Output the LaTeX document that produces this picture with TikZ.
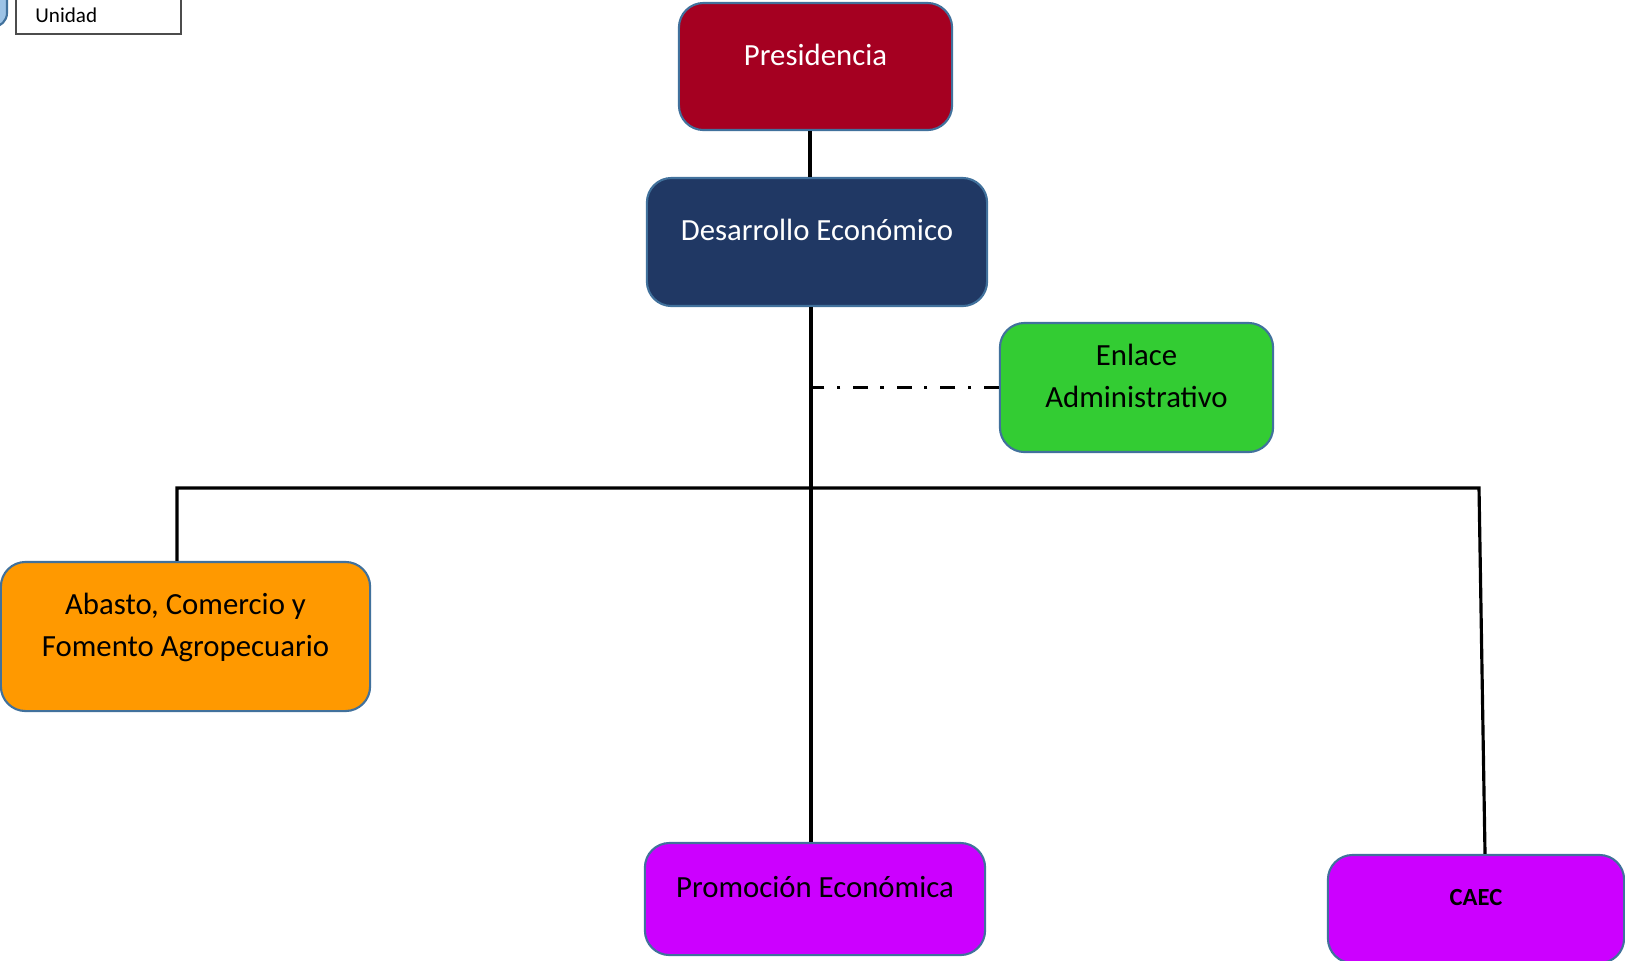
\documentclass[tikz,border=0pt]{standalone}
\usepackage{fontspec}
\setmainfont{Carlito}
\definecolor{presi}{HTML}{A50021}
\definecolor{desa}{HTML}{203864}
\definecolor{enla}{HTML}{33CC33}
\definecolor{abas}{HTML}{FF9900}
\definecolor{prom}{HTML}{CC00FF}
\definecolor{borde}{HTML}{41719C}
\definecolor{leyazul}{HTML}{9DC3E6}
\begin{document}
\begin{tikzpicture}[x=0.01cm,y=-0.01cm]
    \tikzstyle{caja}=[draw=borde,line width=0.6pt,rounded corners=7pt,align=center,
      font=\fontsize{8.75}{12}\selectfont,text depth=6.8pt]
    \tikzstyle{lien}=[line width=0.9pt,black]
  \useasboundingbox (0,0) rectangle (1625,960);
  \clip (0,0) rectangle (1625,960);
  \draw[fill=leyazul,draw=borde,line width=0.6pt,rounded corners=4pt] (-40,-20) rectangle (7,27);
  \draw[gray!60!black,line width=0.8pt] (16,-20) rectangle (181,34);
  \node[anchor=west,font=\fontsize{6}{7}\selectfont] (unidad) at (23,15) {Unidad};
  \node[caja,fill=presi,text=white,minimum width=2.73cm,minimum height=1.27cm] (pres) at (815.5,66.5) {Presidencia};
  \node[caja,fill=desa,text=white,minimum width=3.40cm,minimum height=1.28cm] (desa) at (817,242) {Desarrollo Económico};
  \node[caja,fill=enla,minimum width=2.73cm,minimum height=1.29cm] (enlace) at (1136.5,387.5) {Enlace\\Administrativo};
  \node[caja,fill=abas,minimum width=3.69cm,minimum height=1.49cm] (abasto) at (185.5,636.5) {Abasto, Comercio y\\Fomento Agropecuario};
  \node[caja,fill=prom,minimum width=3.40cm,minimum height=1.12cm] (promo) at (815,899) {Promoción Económica};
  \node[caja,fill=prom,minimum width=2.96cm,minimum height=1.08cm,font=\fontsize{7}{8}\selectfont\bfseries] (caec) at (1476,909) {CAEC};
  \coordinate (bus) at (811,488);
  \coordinate (busab) at (177,488);
  \coordinate (busca) at (1479,488);
  \draw[lien] (pres.south -| 810,0) -- (desa.north -| 810,0);
  \draw[lien] (desa.south -| bus) -- (bus) -- (promo.north -| bus);
  \draw[lien,dash pattern=on 4.3pt off 3.6pt on 1pt off 3.5pt] (enlace.west) -- (enlace.west -| bus);
  \draw[lien] (busab |- abasto.north) -- (busab) -- (busca) -- (caec.north -| 1485,0);
\end{tikzpicture}
\end{document}
